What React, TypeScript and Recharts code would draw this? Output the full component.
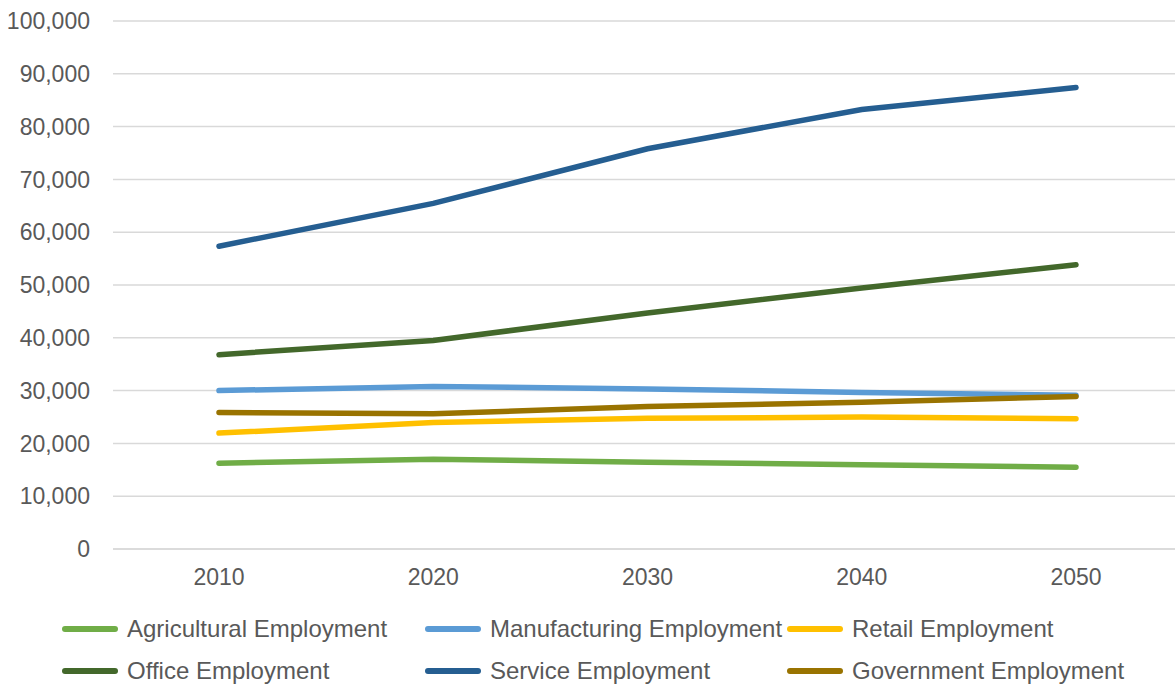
import React from 'react';
import { LineChart, Line, XAxis, YAxis, CartesianGrid } from 'recharts';

const years = ['2010', '2020', '2030', '2040', '2050'];
const agricultural = [16260, 17000, 16450, 15940, 15500];
const manufacturing = [30000, 30800, 30300, 29660, 29100];
const retail = [21950, 23950, 24750, 24990, 24670];
const office = [36800, 39500, 44700, 49450, 53830];
const service = [57350, 65450, 75800, 83250, 87400];
const government = [25850, 25600, 27000, 27770, 28900];
const yTicks = [0, 10000, 20000, 30000, 40000, 50000, 60000, 70000, 80000, 90000, 100000];

const seriesNames = [
  'Agricultural Employment',
  'Manufacturing Employment',
  'Retail Employment',
  'Office Employment',
  'Service Employment',
  'Government Employment',
];
const seriesKeys = ['agri', 'manu', 'retail', 'office', 'service', 'gov'];
const seriesColors = ['#70AD47', '#5B9BD5', '#FFC000', '#43682B', '#255E91', '#997300'];
const seriesValues = [agricultural, manufacturing, retail, office, service, government];

const data = years.map((y, i) => {
  const row: Record<string, any> = { year: y };
  seriesKeys.forEach((k, j) => {
    row[k] = seriesValues[j][i];
  });
  return row;
});

const font = 'Liberation Sans, Arial, sans-serif';
const legendPos = [
  { x: 62, y: 629 },
  { x: 425, y: 629 },
  { x: 787, y: 629 },
  { x: 62, y: 671 },
  { x: 425, y: 671 },
  { x: 787, y: 671 },
];

export default function App() {
  return (
    <div style={{ position: 'absolute', left: 0, top: 0, width: 1175, height: 690, overflow: 'hidden', background: '#fff', fontFamily: font }}>
      <LineChart width={1184} height={690} data={data} margin={{ top: 21, right: 0, left: 0, bottom: 111 }}>
        <CartesianGrid vertical={false} stroke="#D9D9D9" strokeWidth={1.5} />
        <XAxis
          dataKey="year"
          height={30}
          padding={{ left: 106, right: 108 }}
          axisLine={{ stroke: '#D9D9D9', strokeWidth: 1.5 }}
          tickLine={false}
          tickSize={0}
          tickMargin={20}
          tick={{ fill: '#595959', fontSize: 23, fontFamily: font }}
        />
        <YAxis
          width={113}
          domain={[0, 100000]}
          ticks={yTicks}
          interval={0}
          axisLine={false}
          tickLine={false}
          tickSize={0}
          tickMargin={23}
          tickFormatter={(v: number) => v.toLocaleString('en-US')}
          tick={{ fill: '#595959', fontSize: 23, fontFamily: font }}
        />
        {seriesKeys.map((k, j) => (
          <Line
            key={k}
            dataKey={k}
            name={seriesNames[j]}
            stroke={seriesColors[j]}
            strokeWidth={5.5}
            strokeLinecap="round"
            dot={false}
            activeDot={false}
            isAnimationActive={false}
          />
        ))}
      </LineChart>
      {seriesNames.map((n, j) => (
        <div key={n} style={{ position: 'absolute', left: legendPos[j].x, top: legendPos[j].y - 15, height: 30, display: 'flex', alignItems: 'center' }}>
          <div style={{ width: 56, height: 5.5, borderRadius: 3, background: seriesColors[j] }} />
          <span style={{ marginLeft: 9, fontSize: 24, color: '#595959', whiteSpace: 'nowrap' }}>{n}</span>
        </div>
      ))}
    </div>
  );
}
